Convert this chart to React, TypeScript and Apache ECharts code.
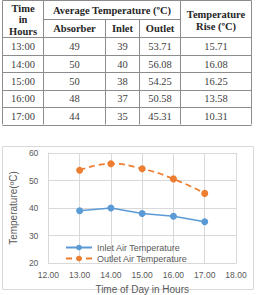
import React, { useEffect, useRef } from "react";
import * as echarts from "echarts";

// Measured hourly temperatures
const hours = ["13:00", "14:00", "15:00", "16:00", "17:00"];
const hourValues = [13, 14, 15, 16, 17];
const absorber = [49, 50, 50, 48, 44];
const inlet = [39, 40, 38, 37, 35];
const outlet = [53.71, 56.08, 54.25, 50.58, 45.31];
const rise = [15.71, 16.08, 16.25, 13.58, 10.31];

const xTicks = { min: 12, max: 18, interval: 1 };
const yTicks = { min: 20, max: 60, interval: 10 };

// Table geometry
const colX = [2.5, 43.5, 105.5, 139.5, 180.5, 251.5];
const headerMid = 19.5;
const headerBottom = 37.5;
const rowH = 17.4;
const tableTop = 0.5;

const serif = "'Liberation Serif', 'DejaVu Serif', serif";
const sans = "'Liberation Sans', Arial, sans-serif";

function buildTable(): any[] {
  const els: any[] = [];
  const lineColor = "#8c8c8c";
  const tableBottom = headerBottom + rowH * hours.length;
  const hLine = (x1: number, x2: number, y: number) => ({
    type: "line",
    shape: { x1, y1: y, x2, y2: y },
    style: { stroke: lineColor, lineWidth: 1 },
    silent: true,
  });
  const vLine = (x: number, y1: number, y2: number) => ({
    type: "line",
    shape: { x1: x, y1, x2: x, y2 },
    style: { stroke: lineColor, lineWidth: 1 },
    silent: true,
  });
  // borders and rules
  els.push(hLine(colX[0], colX[5], tableTop));
  els.push(hLine(colX[1], colX[4], headerMid));
  els.push(hLine(colX[0], colX[5], headerBottom));
  for (let i = 1; i <= hours.length; i++) {
    els.push(hLine(colX[0], colX[5], Math.round(headerBottom + rowH * i) + 0.5));
  }
  els.push(vLine(colX[0], tableTop, tableBottom));
  els.push(vLine(colX[1], tableTop, tableBottom));
  els.push(vLine(colX[2], headerMid, tableBottom));
  els.push(vLine(colX[3], headerMid, tableBottom));
  els.push(vLine(colX[4], tableTop, tableBottom));
  els.push(vLine(colX[5], tableTop, tableBottom));

  const text = (t: string, x: number, y: number, bold: boolean) => ({
    type: "text",
    x,
    y,
    silent: true,
    style: {
      text: t,
      fill: bold ? "#262626" : "#404040",
      font: `${bold ? "bold " : ""}${bold ? 10.5 : 10.5}px ${serif}`,
      textAlign: "center",
      textVerticalAlign: "middle",
    },
  });
  const mid = (a: number, b: number) => (colX[a] + colX[b]) / 2;

  // header
  els.push(text("Time", mid(0, 1), 8, true));
  els.push(text("in", mid(0, 1), 19.5, true));
  els.push(text("Hours", mid(0, 1), 31, true));
  els.push(text("Average Temperature (\u00BAC)", mid(1, 4), 10, true));
  els.push(text("Absorber", mid(1, 2), 28.5, true));
  els.push(text("Inlet", mid(2, 3), 28.5, true));
  els.push(text("Outlet", mid(3, 4), 28.5, true));
  els.push(text("Temperature", mid(4, 5), 14.5, true));
  els.push(text("Rise (\u00BAC)", mid(4, 5), 26, true));

  // body
  hours.forEach((h, i) => {
    const y = headerBottom + rowH * i + rowH / 2 + 0.5;
    els.push(text(h, mid(0, 1), y, false));
    els.push(text(String(absorber[i]), mid(1, 2), y, false));
    els.push(text(String(inlet[i]), mid(2, 3), y, false));
    els.push(text(outlet[i].toFixed(2), mid(3, 4), y, false));
    els.push(text(rise[i].toFixed(2), mid(4, 5), y, false));
  });
  return els;
}

export default function App() {
  const ref = useRef<HTMLDivElement>(null);

  useEffect(() => {
    if (!ref.current) return;
    const chart = echarts.init(ref.current, null, { renderer: "svg" });
    const axisGray = "#595959";
    const gridGray = "#d9d9d9";

    chart.setOption({
      animation: false,
      backgroundColor: "#ffffff",
      textStyle: { fontFamily: sans },
      graphic: [
        {
          type: "rect",
          shape: { x: 2.5, y: 146.5, width: 251, height: 143 },
          style: { fill: "none", stroke: gridGray, lineWidth: 1 },
          silent: true,
          z: -1,
        },
        ...buildTable(),
      ],
      grid: { left: 33, right: 21, top: 153, bottom: 30 },
      legend: {
        orient: "vertical",
        left: 60,
        top: 238,
        itemWidth: 26,
        itemHeight: 7,
        itemGap: 2,
        textStyle: { fontSize: 9, color: axisGray, fontFamily: sans },
        data: ["Inlet Air Temperature", "Outlet Air Temperature"],
      },
      xAxis: {
        type: "value",
        min: xTicks.min,
        max: xTicks.max,
        interval: xTicks.interval,
        name: "Time of Day in Hours",
        nameLocation: "middle",
        nameGap: 21,
        nameTextStyle: { fontSize: 10, color: axisGray, fontFamily: sans },
        axisLine: { show: true, lineStyle: { color: gridGray } },
        axisTick: { show: false },
        axisLabel: {
          fontSize: 8.5,
          color: axisGray,
          margin: 7,
          formatter: (v: number) => v.toFixed(2),
        },
        splitLine: { show: true, lineStyle: { color: gridGray } },
      },
      yAxis: {
        type: "value",
        min: yTicks.min,
        max: yTicks.max,
        interval: yTicks.interval,
        name: "Temperature(\u00BAC)",
        nameLocation: "middle",
        nameGap: 21,
        nameTextStyle: { fontSize: 10, color: axisGray, fontFamily: sans },
        axisLine: { show: true, lineStyle: { color: gridGray } },
        axisTick: { show: false },
        axisLabel: { fontSize: 8.5, color: axisGray, margin: 10 },
        splitLine: { show: true, lineStyle: { color: gridGray } },
      },
      series: [
        {
          name: "Inlet Air Temperature",
          type: "line",
          data: hourValues.map((h, i) => [h, inlet[i]]),
          symbol: "circle",
          symbolSize: 7,
          itemStyle: { color: "#5b9bd5" },
          lineStyle: { color: "#5b9bd5", width: 1.75 },
        },
        {
          name: "Outlet Air Temperature",
          type: "line",
          smooth: true,
          data: hourValues.map((h, i) => [h, outlet[i]]),
          symbol: "circle",
          symbolSize: 7,
          itemStyle: { color: "#ed7d31" },
          lineStyle: { color: "#ed7d31", width: 1.75, type: [6, 4] },
        },
      ],
    });
    return () => chart.dispose();
  }, []);

  return (
    <div
      ref={ref}
      style={{ position: "fixed", left: 0, top: 0, width: 257, height: 295 }}
    />
  );
}
